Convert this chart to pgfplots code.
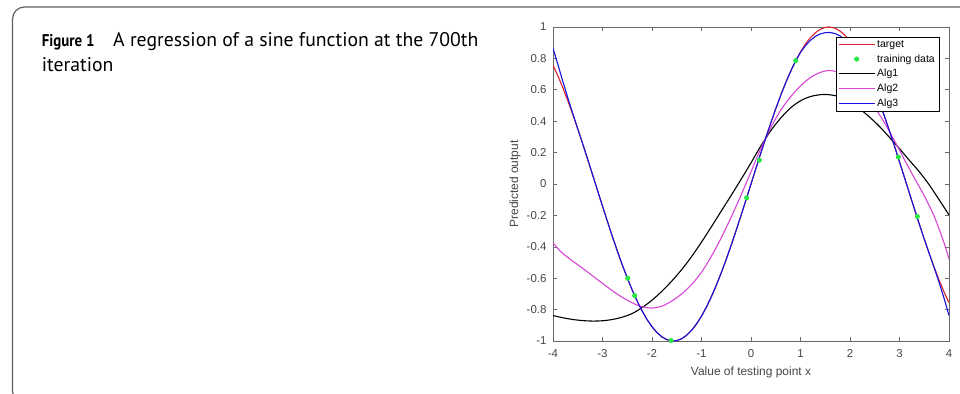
\documentclass[border=0pt]{standalone}
\usepackage{pgfplots}
\pgfplotsset{compat=1.18}
\usepackage{fontspec}
\setmainfont{Liberation Sans}
\newfontfamily\capfont{PT Sans}
\newfontfamily\capfontb{PT Sans Bold}[FakeStretch=0.88]
\definecolor{framegray}{RGB}{95,95,95}
\definecolor{axgray}{RGB}{105,105,105}
\definecolor{labgray}{RGB}{70,70,70}
\definecolor{tred}{RGB}{220,30,45}
\definecolor{tgreen}{RGB}{40,230,70}
\definecolor{tmag}{RGB}{215,70,215}
\definecolor{tblue}{RGB}{20,20,225}
\begin{document}
\begin{tikzpicture}[x=1bp,y=1bp]
\useasboundingbox (0,0) rectangle (960,393);
\draw[line width=1.2bp, color=framegray, rounded corners=12bp] (12.5,386) rectangle (1010,-10);
\node[anchor=base west, inner sep=0pt, text=black] at (41.7,346.3) {\capfontb\fontsize{17}{24}\selectfont Figure 1};
\node[anchor=base west, inner sep=0pt, text=black] at (113,346.3) {\capfont\fontsize{19.8}{24}\selectfont A regression of a sine function at the 700th};
\node[anchor=base west, inner sep=0pt, text=black] at (41.7,321.3) {\capfont\fontsize{19.8}{24}\selectfont iteration};
\begin{axis}[
  at={(553bp,52bp)}, anchor=south west, scale only axis,
  width=396bp, height=314bp,
  xmin=-4, xmax=4, ymin=-1, ymax=1,
  xtick={-4,-3,-2,-1,0,1,2,3,4},
  xticklabels={-4,-3,-2,-1,0,1,2,3,4},
  ytick={-1,-0.8,-0.6,-0.4,-0.2,0,0.2,0.4,0.6,0.8,1},
  yticklabels={-1,-0.8,-0.6,-0.4,-0.2,0,0.2,0.4,0.6,0.8,1},
  tick align=inside, major tick length=4bp,
  axis line style={draw=axgray, line width=0.8bp},
  tick style={draw=axgray, line width=0.6bp},
  ticklabel style={font=\fontsize{11.5}{13}\selectfont, text=labgray},
  xticklabel style={anchor=base, yshift=-16bp},
  yticklabel style={anchor=east, xshift=-3bp},
  xlabel={Value of testing point x}, ylabel={Predicted output},
  label style={font=\fontsize{12}{14}\selectfont, text=labgray},
  xlabel style={at={(axis description cs:0.5,0)}, anchor=base, yshift=-34bp},
  ylabel style={at={(axis description cs:0,0.5)}, anchor=center, yshift=38bp},
  legend style={at={(rel axis cs:1,1)}, anchor=north east, xshift=-10bp, yshift=-10bp,
    font=\fontsize{10.5}{12}\selectfont,
    row sep=2.6bp, inner xsep=2bp, inner ysep=2bp,
    nodes={inner xsep=2bp, inner ysep=1.5bp, text depth=0.15em}},
  legend cell align=left,
  legend image code/.code={\draw[mark repeat=2,mark phase=2,#1] plot coordinates {(0bp,0bp) (18bp,0bp) (36bp,0bp)};},
]
\addplot[color=tred, line width=1.1bp] coordinates {
(-4.0,0.7568) (-3.9,0.6878) (-3.8,0.6119) (-3.7,0.5298) (-3.6,0.4425) (-3.5,0.3508) (-3.4,0.2555) (-3.3,0.1577) (-3.2,0.0584) (-3.1,-0.0416)
(-3.0,-0.1411) (-2.9,-0.2392) (-2.8,-0.3350) (-2.7,-0.4274) (-2.6,-0.5155) (-2.5,-0.5985) (-2.4,-0.6755) (-2.3,-0.7457) (-2.2,-0.8085) (-2.1,-0.8632)
(-2.0,-0.9093) (-1.9,-0.9463) (-1.8,-0.9738) (-1.7,-0.9917) (-1.6,-0.9996) (-1.5708,-1.0) (-1.5,-0.9975) (-1.4,-0.9854) (-1.3,-0.9636) (-1.2,-0.9320) (-1.1,-0.8912)
(-1.0,-0.8415) (-0.9,-0.7833) (-0.8,-0.7174) (-0.7,-0.6442) (-0.6,-0.5646) (-0.5,-0.4794) (-0.4,-0.3894) (-0.3,-0.2955) (-0.2,-0.1987) (-0.1,-0.0998)
(0.0,0.0) (0.1,0.0998) (0.2,0.1987) (0.3,0.2955) (0.4,0.3894) (0.5,0.4794) (0.6,0.5646) (0.7,0.6442) (0.8,0.7174) (0.9,0.7833)
(1.0,0.8415) (1.1,0.8912) (1.2,0.9320) (1.3,0.9636) (1.4,0.9854) (1.5,0.9975) (1.5708,1.0) (1.6,0.9996) (1.7,0.9917) (1.8,0.9738) (1.9,0.9463)
(2.0,0.9093) (2.1,0.8632) (2.2,0.8085) (2.3,0.7457) (2.4,0.6755) (2.5,0.5985) (2.6,0.5155) (2.7,0.4274) (2.8,0.3350) (2.9,0.2392)
(3.0,0.1411) (3.1,0.0416) (3.2,-0.0584) (3.3,-0.1577) (3.4,-0.2555) (3.5,-0.3508) (3.6,-0.4425) (3.7,-0.5298) (3.8,-0.6119) (3.9,-0.6878) (4.0,-0.7568)
};
\addlegendentry{target}
\addplot[only marks, mark=*, mark size=2.3bp, color=tgreen] coordinates {
(-2.49,-0.600) (-2.35,-0.711) (-1.616,-0.997) (-0.087,-0.088) (0.168,0.152) (0.903,0.785) (2.976,0.172) (3.36,-0.207)
};
\addlegendentry{training data}
\addplot[color=black, line width=1.1bp, smooth] coordinates {
(-4.0,-0.838) (-3.8,-0.852) (-3.6,-0.863) (-3.4,-0.870) (-3.2,-0.873) (-3.0,-0.871) (-2.8,-0.863) (-2.6,-0.848) (-2.4,-0.825) (-2.2,-0.787)
(-2.0,-0.740) (-1.8,-0.683) (-1.6,-0.618) (-1.4,-0.545) (-1.2,-0.462) (-1.0,-0.370) (-0.8,-0.272) (-0.6,-0.172) (-0.4,-0.072) (-0.2,0.030)
(0.0,0.135) (0.2,0.243) (0.4,0.340) (0.6,0.420) (0.8,0.485) (1.0,0.530) (1.2,0.557) (1.4,0.569) (1.5,0.570) (1.6,0.568) (1.8,0.555)
(2.0,0.525) (2.2,0.478) (2.4,0.425) (2.6,0.365) (2.8,0.296) (3.0,0.225) (3.2,0.150) (3.4,0.078) (3.6,-0.005) (3.8,-0.100) (4.0,-0.197)
};
\addlegendentry{Alg1}
\addplot[color=tmag, line width=1.1bp, smooth] coordinates {
(-4.0,-0.378) (-3.95,-0.392) (-3.9,-0.412) (-3.8,-0.443) (-3.6,-0.492) (-3.4,-0.537) (-3.2,-0.585) (-3.0,-0.633) (-2.8,-0.680) (-2.6,-0.722)
(-2.4,-0.757) (-2.2,-0.782) (-2.0,-0.790) (-1.8,-0.778) (-1.6,-0.745) (-1.4,-0.700) (-1.2,-0.640) (-1.0,-0.562) (-0.8,-0.460) (-0.6,-0.342)
(-0.4,-0.210) (-0.2,-0.070) (0.0,0.078) (0.2,0.228) (0.4,0.360) (0.6,0.470) (0.8,0.555) (1.0,0.625) (1.2,0.678) (1.4,0.711) (1.55,0.722)
(1.7,0.718) (1.9,0.690) (2.1,0.640) (2.3,0.572) (2.5,0.487) (2.7,0.388) (2.9,0.275) (3.1,0.155) (3.3,0.038) (3.5,-0.075) (3.7,-0.205) (3.9,-0.375) (4.0,-0.478)
};
\addlegendentry{Alg2}
\addplot[color=tblue, line width=1.1bp] coordinates {
(-4.0,0.864) (-3.9,0.760) (-3.8,0.652) (-3.7,0.548) (-3.6,0.449) (-3.5,0.3508) (-3.4,0.2555) (-3.3,0.1577) (-3.2,0.0584) (-3.1,-0.0416)
(-3.0,-0.1411) (-2.9,-0.2392) (-2.8,-0.3350) (-2.7,-0.4274) (-2.6,-0.5155) (-2.5,-0.5985) (-2.4,-0.6755) (-2.3,-0.7457) (-2.2,-0.8085) (-2.1,-0.8632)
(-2.0,-0.9093) (-1.9,-0.9463) (-1.8,-0.9738) (-1.7,-0.9917) (-1.6,-0.9996) (-1.5708,-1.0) (-1.5,-0.9975) (-1.4,-0.9854) (-1.3,-0.9636) (-1.2,-0.9320) (-1.1,-0.8912)
(-1.0,-0.8415) (-0.9,-0.7833) (-0.8,-0.7174) (-0.7,-0.6442) (-0.6,-0.5646) (-0.5,-0.4794) (-0.4,-0.3894) (-0.3,-0.2955) (-0.2,-0.1987) (-0.1,-0.0998)
(0.0,0.0) (0.1,0.0998) (0.2,0.1987) (0.3,0.2955) (0.4,0.3894) (0.5,0.4794) (0.6,0.5646) (0.7,0.6442) (0.8,0.7174) (0.9,0.7833)
(1.0,0.838) (1.1,0.881) (1.2,0.915) (1.3,0.940) (1.4,0.956) (1.5,0.964) (1.6,0.965) (1.7,0.958) (1.8,0.943) (1.9,0.920)
(2.0,0.889) (2.1,0.850) (2.2,0.802) (2.3,0.743) (2.4,0.6755) (2.5,0.5985) (2.6,0.5155) (2.7,0.4274) (2.8,0.3350) (2.9,0.2392)
(3.0,0.1411) (3.1,0.0416) (3.2,-0.0584) (3.3,-0.1577) (3.4,-0.2555) (3.5,-0.3508) (3.6,-0.4425) (3.7,-0.533) (3.8,-0.627) (3.9,-0.728) (4.0,-0.837)
};
\addlegendentry{Alg3}
\end{axis}
\end{tikzpicture}
\end{document}
